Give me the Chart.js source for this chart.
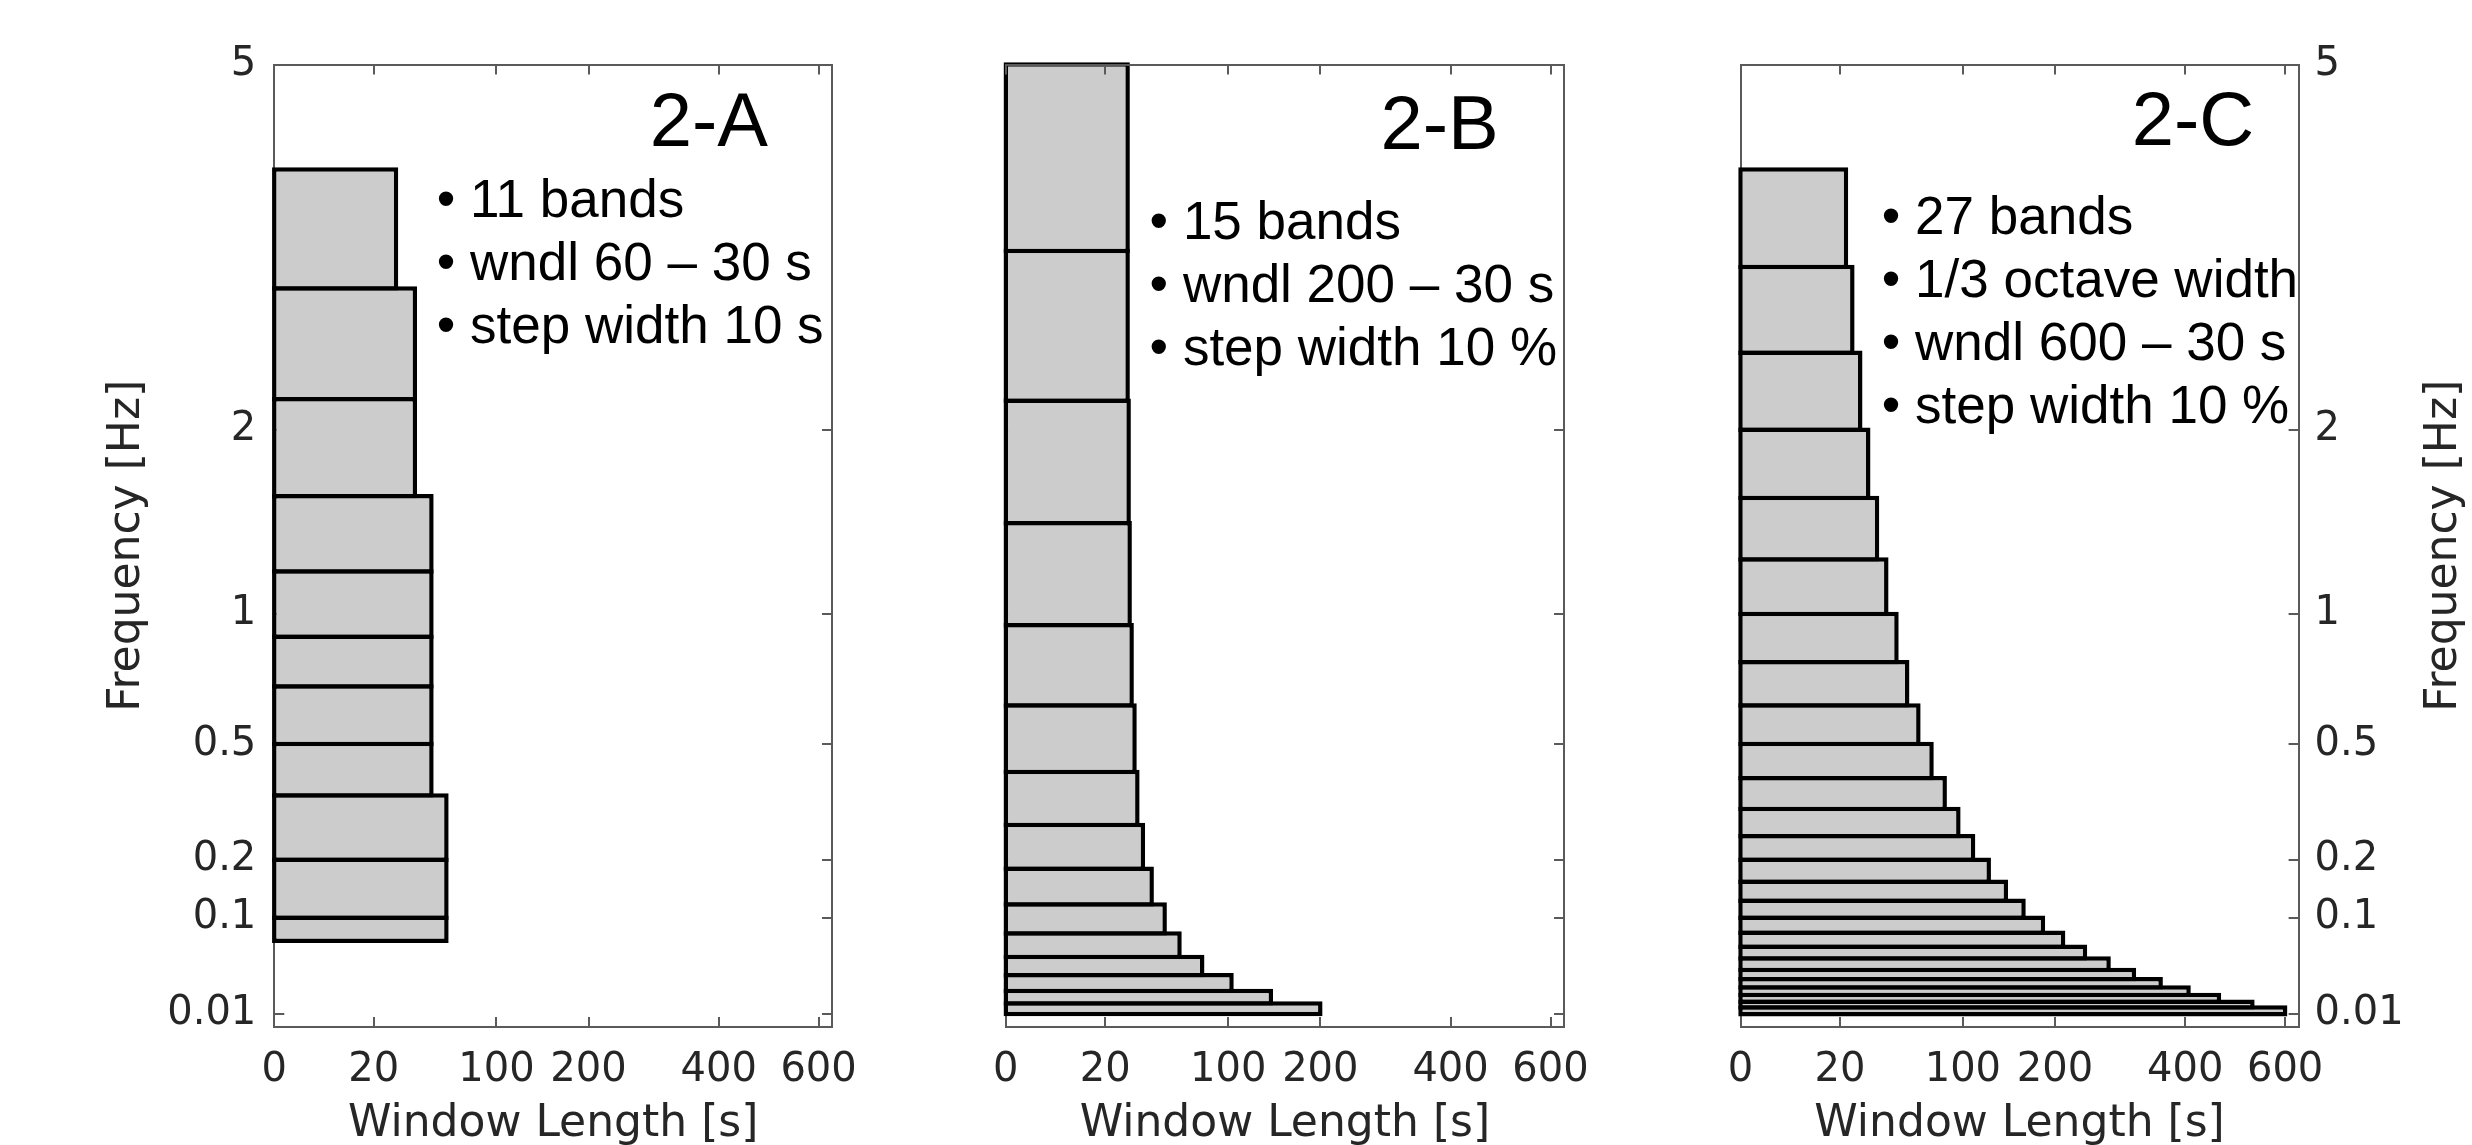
<!DOCTYPE html>
<html>
<head>
<meta charset="utf-8">
<script src="https://cdn.jsdelivr.net/npm/chart.js@4.4.1/dist/chart.umd.min.js"></script>
<style>
  html, body { margin: 0; padding: 0; background: #fff; }
  body { width: 2472px; height: 1145px; position: relative; overflow: hidden; }
  canvas { position: absolute; top: 0; }
</style>
</head>
<body>
<canvas id="panelA" width="900" height="1145" style="left:0px"></canvas>
<canvas id="panelB" width="760" height="1145" style="left:900px"></canvas>
<canvas id="panelC" width="812" height="1145" style="left:1660px"></canvas>
<script>
// band edges in Hz (top to bottom) and window length per band in s
const edgesA = [4, 3, 2.2, 1.6, 1.2, 0.9, 0.7, 0.5, 0.35, 0.2, 0.1, 0.07];
const wndlA = [30, 40, 40, 50, 50, 50, 50, 50, 60, 60, 60];

const edgesB = [5, 3.3, 2.19, 1.45, 0.95, 0.63, 0.415, 0.276, 0.182, 0.12, 0.079, 0.052, 0.035, 0.023, 0.0153, 0.01];
const wndlB = [30, 30, 30.5, 31, 32, 33.5, 35, 38, 43, 51, 61, 78, 103, 142, 200];

const edgesC = [4, 3.17, 2.52, 2.0, 1.59, 1.26, 1.0, 0.794, 0.63, 0.5, 0.397, 0.315, 0.25, 0.2, 0.158, 0.126,
  0.1, 0.08, 0.063, 0.0505, 0.0396, 0.0317, 0.0254, 0.0204, 0.0163, 0.0131, 0.0099];
const wndlC = [22.5, 25.3, 29, 33, 37.7, 43, 49.2, 56.2, 64, 73.8, 84.3, 96, 109.4, 124.6, 142.4, 162,
  185, 210.5, 240, 274, 313, 357, 406, 463, 530, 600];

const notesA = ['• 11 bands', '• wndl 60 – 30 s', '• step width 10 s'];
const notesB = ['• 15 bands', '• wndl 200 – 30 s', '• step width 10 %'];
const notesC = ['• 27 bands', '• 1/3 octave width', '• wndl 600 – 30 s', '• step width 10 %'];

const freqTicks = [0.01, 0.1, 0.2, 0.5, 1, 2, 5];
const wndlTicks = [0, 20, 100, 200, 400, 600];
const freqRange = [0.005, 5];
const wndlRange = [0, 630];

const axisColor = '#5a5a5a';
const textColor = '#262626';
Chart.defaults.font.family = 'DejaVu Sans';

// square-root axis, like the original figure
class SqrtScale extends Chart.LinearScale {
  getPixelForValue(value) {
    const a = Math.sqrt(this.min), b = Math.sqrt(this.max);
    return this.getPixelForDecimal((Math.sqrt(value) - a) / (b - a));
  }
  getValueForPixel(pixel) {
    const a = Math.sqrt(this.min), b = Math.sqrt(this.max);
    const s = a + this.getDecimalForPixel(pixel) * (b - a);
    return s * s;
  }
}
SqrtScale.id = 'sqrt';
SqrtScale.defaults = {};
Chart.register(SqrtScale);

function sqrtAxis(position, range, ticks, size, labels, pad, z, title, titlePad) {
  return {
    type: 'sqrt',
    position: position,
    min: range[0],
    max: range[1],
    bounds: 'data',
    offset: false,
    afterBuildTicks: (s) => { s.ticks = ticks.map((v) => ({ value: v })); },
    afterFit: (s) => {
      if (s.isHorizontal()) s.height = size; else s.width = size;
    },
    grid: {
      display: true, offset: false, drawOnChartArea: false, drawTicks: true,
      tickLength: -10, color: axisColor, lineWidth: 2, z: z
    },
    // border in the same layer as the grid, so its position is known when drawn
    border: { display: true, color: axisColor, width: 2, z: z },
    ticks: {
      display: labels, autoSkip: false, maxRotation: 0, minRotation: 0,
      padding: pad || 0, color: textColor,
      font: { family: 'DejaVu Sans', size: 40 },
      callback: (v) => String(v)
    },
    title: {
      display: !!title, text: title || '', color: textColor,
      font: { family: 'DejaVu Sans', size: 44, lineHeight: 1 },
      padding: titlePad || 0
    }
  };
}

// place every band between its two frequency edges
const bandPlugin = {
  id: 'bands',
  beforeDatasetsDraw(chart) {
    const ds = chart.data.datasets[0];
    const meta = chart.getDatasetMeta(0);
    const xs = chart.scales.x, ys = chart.scales.y;
    const bw = ds.borderWidth;
    meta.data.forEach((bar, i) => {
      const top = ys.getPixelForValue(ds.edges[i]);
      const bottom = ys.getPixelForValue(ds.edges[i + 1]);
      bar.y = (top + bottom) / 2;
      bar.height = bottom - top + bw;
      bar.base = xs.getPixelForValue(0) - bw / 2;
      bar.x = xs.getPixelForValue(ds.data[i].x[1]) + bw / 2;
    });
  }
};

function notesPlugin(p) {
  return {
    id: 'notes',
    afterDraw(chart) {
      const { ctx, chartArea: a } = chart;
      ctx.save();
      ctx.fillStyle = '#000';
      ctx.textAlign = 'left';
      ctx.textBaseline = 'alphabetic';
      ctx.font = '76px "Liberation Sans"';
      ctx.fillText(p.tag, a.left + p.tagAt[0], a.top + p.tagAt[1]);
      ctx.font = '53px "Liberation Sans"';
      p.notes.forEach((t, i) => {
        ctx.fillText(t, a.left + p.notesAt[0], a.top + p.notesAt[1] + i * 63.3);
      });
      if (p.sideTitleX) {
        // right-hand axis title reads bottom to top, as on the left
        ctx.fillStyle = textColor;
        ctx.font = '44px "DejaVu Sans"';
        ctx.textAlign = 'center';
        ctx.textBaseline = 'middle';
        ctx.translate(p.sideTitleX, (a.top + a.bottom) / 2);
        ctx.rotate(-Math.PI / 2);
        ctx.fillText('Frequency [Hz]', 0, 0);
      }
      ctx.restore();
    }
  };
}

function makeChart(p) {
  const leftLabels = p.labelSide === 'left';
  const rightLabels = p.labelSide === 'right';
  return new Chart(document.getElementById(p.id), {
    type: 'bar',
    data: {
      datasets: [{
        data: p.wndl.map((w, i) => ({ x: [0, w], y: p.edges[i + 1] })),
        edges: p.edges,
        backgroundColor: '#cccccc',
        borderColor: '#000',
        borderWidth: 4.5,
        borderSkipped: false,
        inflateAmount: 0,
        clip: false
      }]
    },
    options: {
      indexAxis: 'y',
      responsive: false,
      animation: false,
      events: [],
      layout: { padding: { left: 0, top: 64.5, right: p.padRight, bottom: 0 } },
      plugins: { legend: { display: false }, tooltip: { enabled: false } },
      scales: {
        x: sqrtAxis('bottom', wndlRange, wndlTicks, 118, true, 30, 1, 'Window Length [s]', { top: 0, bottom: -2 }),
        x2: sqrtAxis('top', wndlRange, wndlTicks, 0, false, 0, 1),
        // left axis stays under the bars so their black edge covers it
        y: sqrtAxis('left', freqRange, freqTicks, p.yLeft, leftLabels, 28, 0,
          leftLabels ? 'Frequency [Hz]' : '', { top: 106, bottom: 0 }),
        y2: sqrtAxis('right', freqRange, freqTicks, p.yRight, rightLabels, 26, 1)
      }
    },
    plugins: [bandPlugin, notesPlugin(p)]
  });
}

makeChart({
  id: 'panelA', edges: edgesA, wndl: wndlA, notes: notesA, tag: '2-A',
  yLeft: 274.3, yRight: 0, padRight: 68, labelSide: 'left',
  tagAt: [375.4, 81.5], notesAt: [162.5, 152]
});
makeChart({
  id: 'panelB', edges: edgesB, wndl: wndlB, notes: notesB, tag: '2-B',
  yLeft: 105.8, yRight: 0, padRight: 96, labelSide: 'none',
  tagAt: [374.7, 84.8], notesAt: [143.8, 174]
});
makeChart({
  id: 'panelC', edges: edgesC, wndl: wndlC, notes: notesC, tag: '2-C',
  yLeft: 80.5, yRight: 173.4, padRight: 0, labelSide: 'right',
  tagAt: [391.2, 80.5], notesAt: [141.3, 169], sideTitleX: 784.5
});
</script>
</body>
</html>
